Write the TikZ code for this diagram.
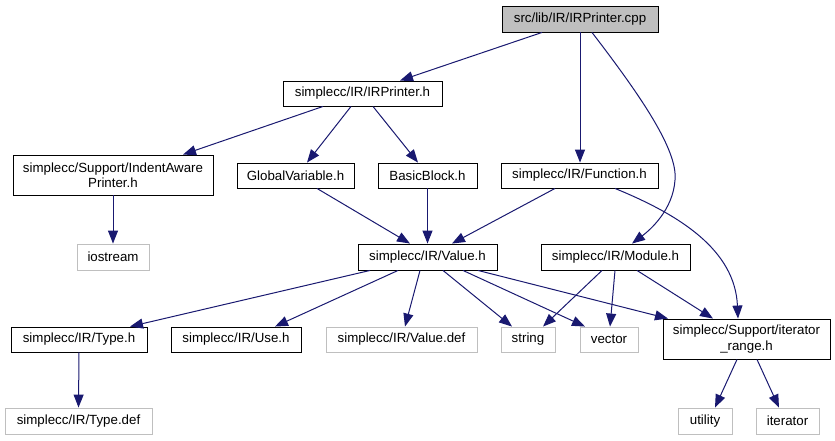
\documentclass[tikz,border=0pt]{standalone}
\usepackage{fontspec}
\setmainfont{Liberation Sans}
\usetikzlibrary{arrows.meta}
\definecolor{edgeblue}{HTML}{191970}
\definecolor{greyline}{HTML}{BFBFBF}
\tikzset{
  box/.style={draw=black, line width=0.9pt, fill=white, inner sep=0pt, align=center,
    font=\fontsize{13.3}{15.5}\selectfont, minimum height=25pt},
  sysbox/.style={box, draw=greyline},
  curbox/.style={box, fill=greyline},
  edge/.style={draw=edgeblue, line width=1pt, -{Triangle[length=13pt,width=10pt]}},
}
\begin{document}
\begin{tikzpicture}[x=1pt,y=-1pt]
\useasboundingbox (0,0) rectangle (835,440);
\node[curbox, minimum width=156pt, minimum height=26pt] (cpp) at (580,19) {src/lib/IR/IRPrinter.cpp};
\node[box, minimum width=159pt] (irph) at (362.5,93.5) {simplecc/IR/IRPrinter.h};
\node[box, minimum width=200pt, minimum height=40pt] (indent) at (113,175) {simplecc/Support/IndentAware\\Printer.h};
\node[box, minimum width=117pt] (gv) at (295.5,175.5) {GlobalVariable.h};
\node[box, minimum width=99pt] (bb) at (427.5,175.5) {BasicBlock.h};
\node[box, minimum width=157pt] (fn) at (579.5,175.5) {simplecc/IR/Function.h};
\node[sysbox, minimum width=72pt, minimum height=26pt] (ios) at (113,257) {iostream};
\node[box, minimum width=139pt, minimum height=26pt] (val) at (427.5,257) {simplecc/IR/Value.h};
\node[box, minimum width=149pt, minimum height=26pt] (mod) at (615.5,257) {simplecc/IR/Module.h};
\node[box, minimum width=136pt] (type) at (79,339.5) {simplecc/IR/Type.h};
\node[box, minimum width=130pt] (use) at (236,339.5) {simplecc/IR/Use.h};
\node[sysbox, minimum width=151pt] (vdef) at (401.5,339.5) {simplecc/IR/Value.def};
\node[sysbox, minimum width=54pt] (str) at (528,339.5) {string};
\node[sysbox, minimum width=58pt] (vec) at (609,339.5) {vector};
\node[box, minimum width=167pt, minimum height=40pt] (ir) at (746.5,339) {simplecc/Support/iterator\\\_range.h};
\node[sysbox, minimum width=147pt, minimum height=26pt] (tdef) at (78.5,421) {simplecc/IR/Type.def};
\node[sysbox, minimum width=54pt, minimum height=26pt] (util) at (705,421) {utility};
\node[sysbox, minimum width=63pt, minimum height=26pt] (iter) at (787.5,421) {iterator};

\draw[edge] ([xshift=-38pt]cpp.south) -- ([xshift=37.5pt]irph.north);
\draw[edge] (cpp.south) -- (cpp.south |- fn.north);
\draw[edge] ([xshift=12pt]cpp.south) .. controls (640,95) and (678,150) .. (675,180)
   .. controls (673,210) and (650,230) .. ([xshift=16.5pt]mod.north);
\draw[edge] ([xshift=-39.5pt]irph.south) -- ([xshift=70pt]indent.north);
\draw[edge] ([xshift=-11.5pt]irph.south) -- ([xshift=11.5pt]gv.north);
\draw[edge] ([xshift=10.5pt]irph.south) -- ([xshift=-9.5pt]bb.north);
\draw[edge] (indent.south) -- (ios.north);
\draw[edge] ([xshift=21.5pt]gv.south) -- ([xshift=-17.5pt]val.north);
\draw[edge] (bb.south) -- (val.north);
\draw[edge] ([xshift=-24.5pt]fn.south) -- ([xshift=24.5pt]val.north);
\draw[edge] ([xshift=35.5pt]fn.south) .. controls (680,215) and (735,250) .. ([xshift=-8.5pt]ir.north);
\draw[edge] ([xshift=-57.5pt]val.south) -- ([xshift=51pt]type.north);
\draw[edge] ([xshift=-29.5pt]val.south) -- ([xshift=39pt]use.north);
\draw[edge] ([xshift=-7.5pt]val.south) -- ([xshift=3.5pt]vdef.north);
\draw[edge] ([xshift=15.5pt]val.south) -- ([xshift=-16pt]str.north);
\draw[edge] ([xshift=35.5pt]val.south) -- ([xshift=-24pt]vec.north);
\draw[edge] ([xshift=50.5pt]val.south) -- ([xshift=-78.5pt]ir.north);
\draw[edge] ([xshift=-13.5pt]mod.south) -- ([xshift=15pt]str.north);
\draw[edge] ([xshift=-0.5pt]mod.south) -- ([xshift=1pt]vec.north);
\draw[edge] ([xshift=21.5pt]mod.south) -- ([xshift=-33.5pt]ir.north);
\draw[edge] ([xshift=-9.5pt]ir.south) -- ([xshift=10pt]util.north);
\draw[edge] ([xshift=10.5pt]ir.south) -- ([xshift=-8.5pt]iter.north);
\draw[edge] (type.south) -- (tdef.north);
\end{tikzpicture}
\end{document}
